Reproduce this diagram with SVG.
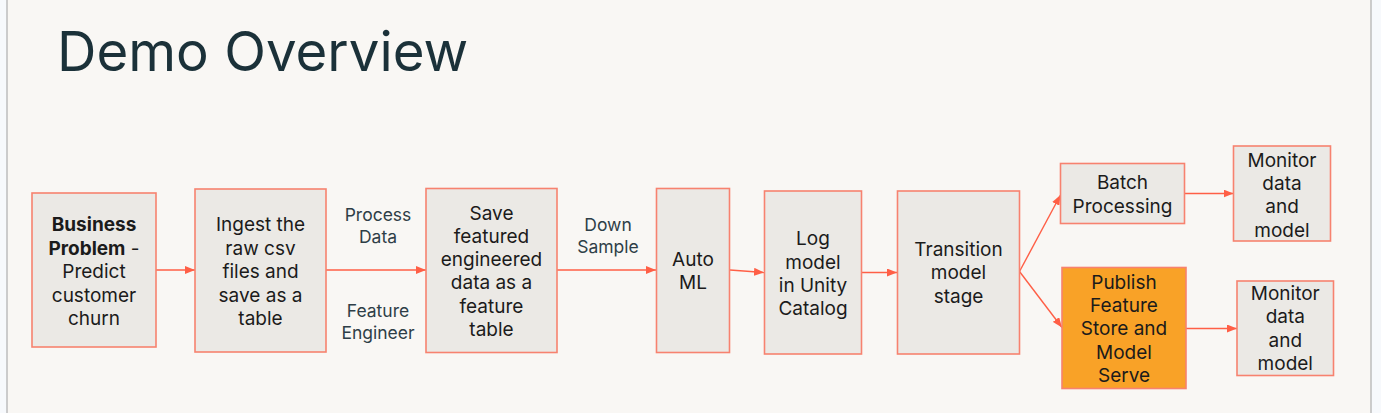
<svg xmlns="http://www.w3.org/2000/svg" width="1381" height="413" viewBox="0 0 1381 413">
<defs>
<style>
.node{fill:#EBE9E5;stroke:#F7826F;stroke-width:1.6}
.hl{fill:#F9A227;stroke:#F7826F;stroke-width:1.6}
.t{font-family:Inter,"Liberation Sans",sans-serif;font-size:19px;fill:#1B1B1B;text-anchor:middle}
.lbl{font-family:Inter,"Liberation Sans",sans-serif;font-size:17.5px;fill:#2E3E47;text-anchor:middle}
.b{font-weight:bold}
.edge{stroke:#FF5F46;stroke-width:1.4;fill:none;marker-end:url(#ah)}
</style>
<marker id="ah" markerWidth="10" markerHeight="8" refX="10" refY="4" orient="auto" markerUnits="userSpaceOnUse">
<path d="M0,0 L10,4 L0,8 Z" fill="#FF5F46"/>
</marker>
</defs>
<rect x="0" y="0" width="1381" height="413" fill="#F7F9FC"/>
<rect x="7" y="-2" width="1364" height="420" fill="#F9F7F4" stroke="#BDBDBD" stroke-width="1.5"/>
<text x="57" y="71" font-family="Inter,'Liberation Sans',sans-serif" font-size="54.6" fill="#1B3139">Demo Overview</text>

<g id="connectors">
<line class="edge" x1="156" y1="270" x2="195" y2="270"/>
<line class="edge" x1="326" y1="270" x2="426" y2="270"/>
<line class="edge" x1="557" y1="270" x2="656" y2="270"/>
<line class="edge" x1="730" y1="270" x2="764" y2="272.5"/>
<line class="edge" x1="862" y1="272.5" x2="897" y2="272.5"/>
<line class="edge" x1="1019.5" y1="271.5" x2="1060.5" y2="195"/>
<line class="edge" x1="1019.5" y1="271.5" x2="1062" y2="327.5"/>
<line class="edge" x1="1183" y1="193.5" x2="1233.5" y2="193.5"/>
<line class="edge" x1="1186" y1="328.5" x2="1237" y2="328.5"/>
<text class="lbl" x="378" y="220.5">Process</text>
<text class="lbl" x="378" y="243">Data</text>
<text class="lbl" x="378" y="316.5">Feature</text>
<text class="lbl" x="378" y="338.5">Engineer</text>
<text class="lbl" x="608" y="231">Down</text>
<text class="lbl" x="608" y="253">Sample</text>
</g>

<g id="business-problem">
<rect class="node" x="32" y="193" width="124" height="154"/>
<text class="t" x="94" y="231"><tspan class="b">Business</tspan></text>
<text class="t" x="94" y="254.5"><tspan class="b">Problem</tspan> -</text>
<text class="t" x="94" y="278">Predict</text>
<text class="t" x="94" y="301.5">customer</text>
<text class="t" x="94" y="325">churn</text>
</g>

<g id="ingest">
<rect class="node" x="195" y="189" width="131" height="163"/>
<text class="t" x="260.5" y="231">Ingest the</text>
<text class="t" x="260.5" y="254.5">raw csv</text>
<text class="t" x="260.5" y="278">files and</text>
<text class="t" x="260.5" y="301.5">save as a</text>
<text class="t" x="260.5" y="325">table</text>
</g>

<g id="save-features">
<rect class="node" x="426" y="188.5" width="131" height="164"/>
<text class="t" x="491.5" y="219.5">Save</text>
<text class="t" x="491.5" y="242.8">featured</text>
<text class="t" x="491.5" y="266.1">engineered</text>
<text class="t" x="491.5" y="289.4">data as a</text>
<text class="t" x="491.5" y="312.7">feature</text>
<text class="t" x="491.5" y="336">table</text>
</g>

<g id="automl">
<rect class="node" x="656.5" y="188.5" width="73" height="164"/>
<text class="t" x="693" y="266">Auto</text>
<text class="t" x="693" y="289.3">ML</text>
</g>

<g id="log-model">
<rect class="node" x="764.5" y="191" width="97" height="163"/>
<text class="t" x="813" y="245.3">Log</text>
<text class="t" x="813" y="268.7">model</text>
<text class="t" x="813" y="292">in Unity</text>
<text class="t" x="813" y="315.3">Catalog</text>
</g>

<g id="transition">
<rect class="node" x="897.5" y="191" width="122" height="163"/>
<text class="t" x="958.5" y="256">Transition</text>
<text class="t" x="958.5" y="279.3">model</text>
<text class="t" x="958.5" y="302.7">stage</text>
</g>

<g id="batch">
<rect class="node" x="1060.5" y="163.5" width="124" height="60"/>
<text class="t" x="1122.5" y="189.3">Batch</text>
<text class="t" x="1122.5" y="212.7">Processing</text>
</g>

<g id="monitor-1">
<rect class="node" x="1233.5" y="146" width="97" height="95"/>
<text class="t" x="1282" y="166.7">Monitor</text>
<text class="t" x="1282" y="190">data</text>
<text class="t" x="1282" y="213.3">and</text>
<text class="t" x="1282" y="236.7">model</text>
</g>

<g id="publish">
<rect class="hl" x="1062" y="267.5" width="124" height="121"/>
<text class="t" x="1124" y="288.7">Publish</text>
<text class="t" x="1124" y="312">Feature</text>
<text class="t" x="1124" y="335.3">Store and</text>
<text class="t" x="1124" y="358.7">Model</text>
<text class="t" x="1124" y="382">Serve</text>
</g>

<g id="monitor-2">
<rect class="node" x="1237" y="281" width="96.5" height="94.5"/>
<text class="t" x="1285.3" y="300">Monitor</text>
<text class="t" x="1285.3" y="323.3">data</text>
<text class="t" x="1285.3" y="346.7">and</text>
<text class="t" x="1285.3" y="370">model</text>
</g>
</svg>
